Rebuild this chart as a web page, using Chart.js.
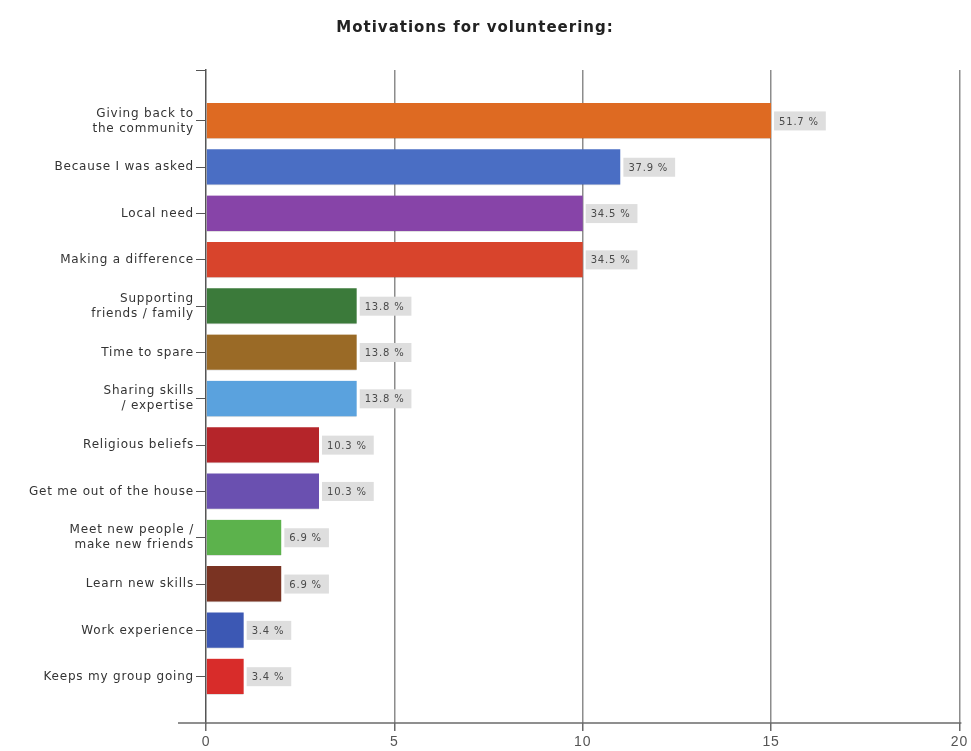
<!DOCTYPE html>
<html>
<head>
<meta charset="utf-8">
<title>Motivations for volunteering</title>
<script src="https://cdn.jsdelivr.net/npm/chart.js@4/dist/chart.umd.min.js"></script>
<style>
  html, body { margin: 0; padding: 0; background: #ffffff; }
  #wrap { width: 971px; height: 751px; position: relative; }
</style>
</head>
<body>
<div id="wrap"><canvas id="chart"></canvas></div>
<script>
// Survey answers (multi-line labels are split into arrays)
const categories = [
  ["Giving back to", "the community"],
  "Because I was asked",
  "Local need",
  "Making a difference",
  ["Supporting", "friends / family"],
  "Time to spare",
  ["Sharing skills", "/ expertise"],
  "Religious beliefs",
  "Get me out of the house",
  ["Meet new people /", "make new friends"],
  "Learn new skills",
  "Work experience",
  "Keeps my group going"
];
// Number of respondents choosing each motivation
const counts = [15, 11, 10, 10, 4, 4, 4, 3, 3, 2, 2, 1, 1];
// Total respondents (percent labels are count / respondents)
const respondents = 29;
const xTicks = [0, 5, 10, 15, 20];
const chartTitle = "Motivations for volunteering:";

const barColors = [
  "#de6a22", "#4a6ec4", "#8744a8", "#d8442c", "#3b7a3a", "#9a6a26", "#5aa2de",
  "#b5252a", "#6a50b0", "#5cb24c", "#7a3322", "#3c58b4", "#d82c2a"
];

const FONT = "'DejaVu Sans', Verdana, sans-serif";
const SPACING = "0.8px";
const Y_MIN = -1.1;

// Slightly open letter spacing for all canvas text
const letterSpacing = {
  id: "letterSpacing",
  beforeLayout(chart) { chart.ctx.letterSpacing = SPACING; },
  beforeDraw(chart) { chart.ctx.letterSpacing = SPACING; }
};

// Title drawn above the plot
const titleText = {
  id: "titleText",
  afterDraw(chart) {
    const ctx = chart.ctx;
    ctx.save();
    ctx.letterSpacing = "1px";
    ctx.font = "bold 15px " + FONT;
    ctx.fillStyle = "#222222";
    ctx.textAlign = "center";
    ctx.textBaseline = "middle";
    ctx.fillText(chartTitle, 475, 28);
    ctx.restore();
  }
};

// Percent boxes to the right of every bar
const valueLabels = {
  id: "valueLabels",
  afterDatasetsDraw(chart) {
    const ctx = chart.ctx;
    const meta = chart.getDatasetMeta(0);
    ctx.save();
    ctx.letterSpacing = "0.8px";
    ctx.font = "10px " + FONT;
    ctx.textBaseline = "middle";
    ctx.textAlign = "left";
    meta.data.forEach((bar, i) => {
      const pct = (counts[i] / respondents * 100).toFixed(1) + " %";
      const w = ctx.measureText(pct).width + 12;
      const h = 19;
      const x0 = bar.x + 3;
      ctx.fillStyle = "#dedede";
      ctx.fillRect(x0, bar.y - h / 2, w, h);
      ctx.fillStyle = "#4a4a4a";
      ctx.fillText(pct, x0 + 5, bar.y + 1);
    });
    ctx.restore();
  }
};

// Bottom axis line reaching a little past the value axis on the left
const baseLine = {
  id: "baseLine",
  afterDraw(chart) {
    const { ctx, chartArea } = chart;
    ctx.save();
    ctx.strokeStyle = "#6a6a6a";
    ctx.lineWidth = 1.5;
    ctx.beginPath();
    ctx.moveTo(chartArea.left - 28, chartArea.bottom);
    ctx.lineTo(chartArea.right + 2, chartArea.bottom);
    ctx.stroke();
    ctx.restore();
  }
};

new Chart(document.getElementById("chart"), {
  type: "bar",
  data: {
    datasets: [{
      data: counts.map((v, i) => ({ x: v, y: i })),
      backgroundColor: barColors,
      borderColor: "rgba(0,0,0,0.12)",
      borderWidth: { bottom: 1, top: 0, left: 0, right: 0 },
      barThickness: 36
    }]
  },
  options: {
    indexAxis: "y",
    responsive: true,
    maintainAspectRatio: false,
    animation: false,
    layout: { padding: { left: 0, right: 8, top: 70, bottom: 0 } },
    plugins: {
      legend: { display: false },
      tooltip: { enabled: false },
      title: { display: false }
    },
    scales: {
      x: {
        type: "linear",
        min: 0,
        max: 20,
        afterBuildTicks(scale) { scale.ticks = xTicks.map(v => ({ value: v })); },
        afterFit(scale) { scale.height = 28; },
        grid: {
          color: ctx => ctx.tick && ctx.tick.value === 0 ? "rgba(0,0,0,0)" : "#8c8c8c",
          lineWidth: 1.5,
          tickColor: "#6a6a6a",
          tickLength: 8
        },
        border: { display: false },
        ticks: {
          color: "#555555",
          font: { family: "'Liberation Sans Narrow', 'Liberation Sans', sans-serif", size: 14 },
          padding: 3,
          maxRotation: 0
        }
      },
      y: {
        type: "linear",
        reverse: true,
        offset: false,
        min: Y_MIN,
        max: 13.0,
        afterBuildTicks(scale) {
          scale.ticks = [{ value: Y_MIN }].concat(counts.map((v, i) => ({ value: i })));
        },
        afterFit(scale) { scale.width = 206; },
        grid: {
          offset: false,
          drawOnChartArea: false,
          tickColor: "#555555",
          tickLength: 10,
          lineWidth: 1
        },
        border: { display: true, color: "#555555", width: 1.5 },
        ticks: {
          color: "#333333",
          font: { family: FONT, size: 12, lineHeight: 1.25 },
          padding: 2,
          callback: v => Number.isInteger(v) ? categories[v] : ""
        }
      }
    }
  },
  plugins: [letterSpacing, valueLabels, baseLine, titleText]
});
</script>
</body>
</html>
